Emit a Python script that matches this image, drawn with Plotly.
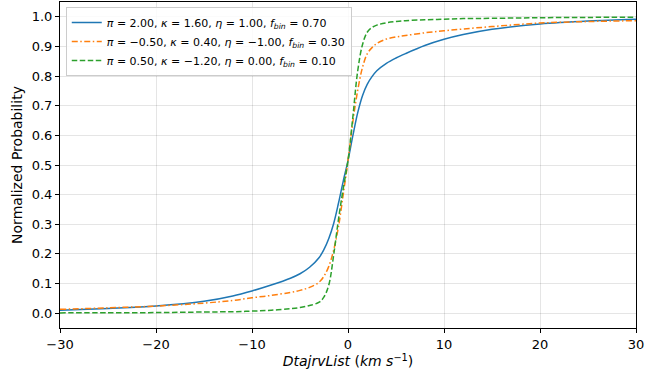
import plotly.graph_objects as go

# Shared x grid (km/s)
x_vals = [-30, -25, -20, -15, -12, -10, -8, -6, -5, -4, -3, -2.5, -2, -1.5, -1, -0.5,
          0, 0.5, 1, 1.5, 2, 2.5, 3, 4, 5, 6, 8, 10, 12, 15, 20, 25, 30]

blue_y = [0.010, 0.016, 0.024, 0.040, 0.058, 0.075, 0.095, 0.118, 0.133, 0.155, 0.188, 0.215,
          0.252, 0.302, 0.370, 0.445, 0.515, 0.598, 0.675, 0.733, 0.772, 0.798, 0.818, 0.843,
          0.861, 0.876, 0.903, 0.924, 0.940, 0.958, 0.976, 0.986, 0.992]

orange_y = [0.013, 0.018, 0.024, 0.034, 0.043, 0.052, 0.060, 0.070, 0.077, 0.087, 0.105, 0.125,
            0.158, 0.212, 0.290, 0.400, 0.515, 0.645, 0.750, 0.828, 0.875, 0.896, 0.910, 0.925,
            0.932, 0.937, 0.946, 0.953, 0.959, 0.967, 0.979, 0.984, 0.987]

green_y = [0.001, 0.0015, 0.002, 0.004, 0.005, 0.007, 0.010, 0.015, 0.019, 0.026, 0.037, 0.055,
           0.095, 0.195, 0.315, 0.420, 0.515, 0.660, 0.815, 0.905, 0.948, 0.964, 0.972, 0.980,
           0.984, 0.987, 0.990, 0.992, 0.994, 0.995, 0.997, 0.998, 0.999]

labels = [
    "<i>π</i> = 2.00, <i>κ</i> = 1.60, <i>η</i> = 1.00, <i>f</i><sub><i>bin</i></sub> = 0.70",
    "<i>π</i> = −0.50, <i>κ</i> = 0.40, <i>η</i> = −1.00, <i>f</i><sub><i>bin</i></sub> = 0.30",
    "<i>π</i> = 0.50, <i>κ</i> = −1.20, <i>η</i> = 0.00, <i>f</i><sub><i>bin</i></sub> = 0.10",
]
colors = ["#1f77b4", "#ff7f0e", "#2ca02c"]
dashes = ["solid", "6px,2.5px,1.5px,2.5px", "5.5px,2.5px"]
series = [blue_y, orange_y, green_y]

fig = go.Figure()
for ys, lab, col, dsh in zip(series, labels, colors, dashes):
    fig.add_trace(go.Scatter(
        x=x_vals, y=ys, mode="lines", name=lab,
        line=dict(color=col, width=1.5, dash=dsh, shape="spline", smoothing=1.0),
    ))

font_family = "DejaVu Sans"
axis_common = dict(
    showline=True, linecolor="black", linewidth=1, mirror=True,
    ticks="outside", ticklen=4, tickcolor="black", tickwidth=1,
    showgrid=True, gridcolor="rgba(0,0,0,0.1)", gridwidth=1,
    zeroline=False, tickfont=dict(family=font_family, size=13, color="black"),
)

fig.update_layout(
    width=672, height=376,
    margin=dict(l=60, r=36, t=2, b=48),
    paper_bgcolor="white", plot_bgcolor="white",
    font=dict(family=font_family, size=13, color="black"),
    xaxis=dict(range=[-30, 30], tick0=-30, dtick=10,
               title=dict(text="<i>DtajrvList</i> (<i>km</i> <i>s</i><sup>−1</sup>)",
                          font=dict(size=14), standoff=3),
               **axis_common),
    yaxis=dict(range=[-0.05, 1.05], tick0=0, dtick=0.1, tickformat=".1f",
               title=dict(text="Normalized Probability", font=dict(size=14), standoff=5),
               **axis_common),
    legend=dict(x=0.01, y=0.985, xanchor="left", yanchor="top",
                bgcolor="rgba(255,255,255,0.85)", bordercolor="#cccccc", borderwidth=1,
                font=dict(family=font_family, size=11), itemwidth=30,
                tracegroupgap=0),
    showlegend=True,
)

fig.write_html("out.html")
